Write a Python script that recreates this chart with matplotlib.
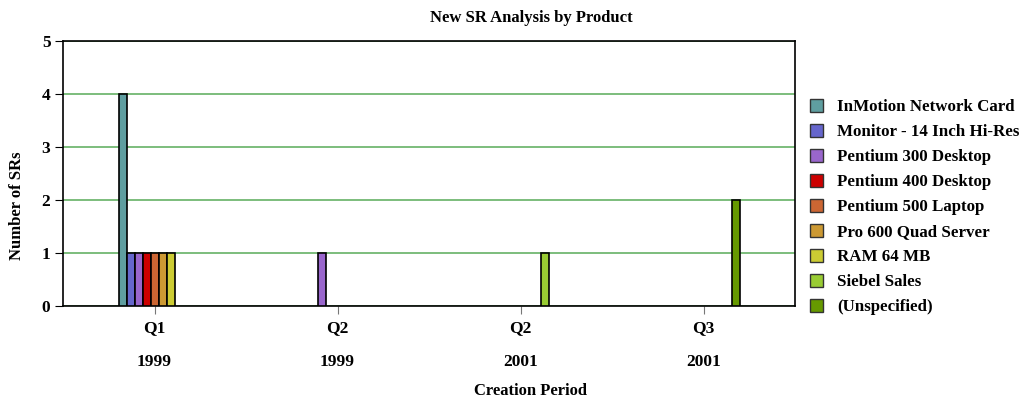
import matplotlib.pyplot as plt
import numpy as np
from matplotlib.patches import Patch

periods = ["Q1\n1999", "Q2\n1999", "Q2\n2001", "Q3\n2001"]
products = ["InMotion Network Card", "Monitor - 14 Inch Hi-Res", "Pentium 300 Desktop",
            "Pentium 400 Desktop", "Pentium 500 Laptop", "Pro 600 Quad Server",
            "RAM 64 MB", "Siebel Sales", "(Unspecified)"]
colors = ["#5f9ea0", "#6666cc", "#9966cc", "#cc0000", "#cc6633", "#cc9933",
          "#cccc33", "#99cc33", "#669900"]
# one list per product, values for each period
counts = [
    [4, 0, 0, 0],
    [1, 0, 0, 0],
    [1, 1, 0, 0],
    [1, 0, 0, 0],
    [1, 0, 0, 0],
    [1, 0, 0, 0],
    [1, 0, 0, 0],
    [0, 0, 1, 0],
    [0, 0, 0, 2],
]

plt.rcParams['font.family'] = ['Liberation Serif', 'DejaVu Serif']
plt.rcParams['font.weight'] = 'bold'

fig = plt.figure(figsize=(10.29, 4.01), dpi=100)
ax = fig.add_axes([63 / 1029, 1 - 306 / 401, 732 / 1029, 265 / 401])

x = np.arange(len(periods))
w = 8 / 183
n = len(products)
for i, (name, vals) in enumerate(zip(products, counts)):
    offs = (i - (n - 1) / 2) * w
    vals = np.array(vals, dtype=float)
    mask = vals > 0
    ax.bar(x[mask] + offs, vals[mask], width=w, color=colors[i],
           edgecolor="black", linewidth=1.2, zorder=3)

ax.set_xlim(-0.5, len(periods) - 0.5)
ax.set_ylim(0, 5)
ax.set_yticks(range(6))
ax.yaxis.grid(True, color="#66b266", linewidth=1.2, zorder=0)
ax.set_xticks(x)
ax.set_xticklabels(periods, fontsize=12.5, fontweight='bold', linespacing=2.55)
ax.tick_params(axis='x', length=6, color="#777777", pad=4)
ax.tick_params(axis='y', length=6, labelsize=12.5, pad=3)
for s in ax.spines.values():
    s.set_linewidth(1.2)

fig.text(531 / 1029, 1 - 18 / 401, "New SR Analysis by Product", fontsize=12,
         fontweight='bold', ha='center', va='center')
fig.text(531 / 1029, 1 - 391 / 401, "Creation Period", fontsize=12,
         fontweight='bold', ha='center', va='center')
fig.text(17 / 1029, 1 - 206 / 401, "Number of SRs", fontsize=12,
         fontweight='bold', ha='center', va='center', rotation=90)

handles = [Patch(facecolor=c, edgecolor="#333333", label=p) for p, c in zip(products, colors)]
fig.legend(handles=handles, loc='upper left', bbox_to_anchor=(803 / 1029, 1 - 92 / 401),
           frameon=False, handlelength=0.8, handleheight=0.8,
           handletextpad=0.8, labelspacing=0.51, borderaxespad=0,
           prop={'weight': 'bold', 'size': 12.2})

fig.savefig("out.png", dpi=100)
